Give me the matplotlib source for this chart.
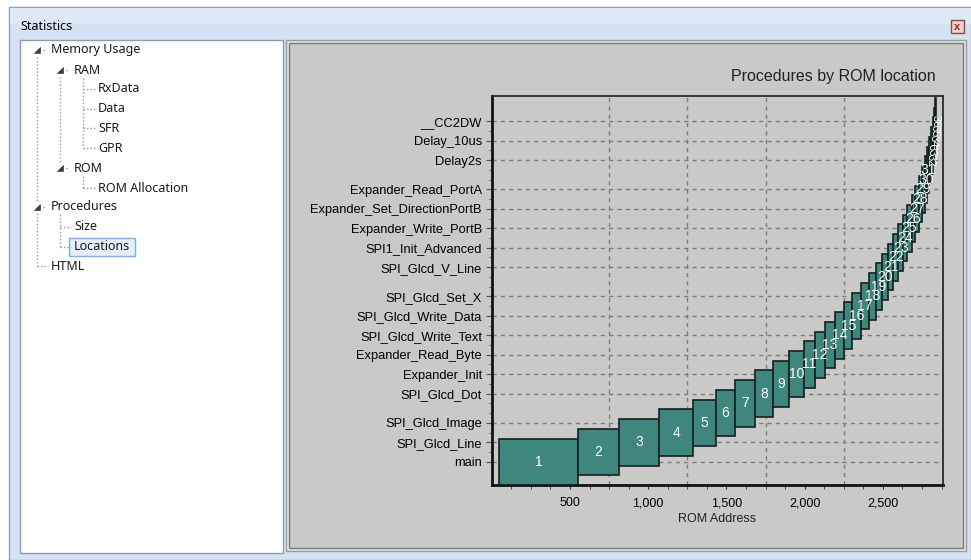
import matplotlib
matplotlib.use('Agg')
import matplotlib.pyplot as plt
from matplotlib.patches import Rectangle, Polygon

# procedures laid out in ROM: start address and size (bytes), in location order
proc_index = list(range(1, 37))
proc_start = [48, 553, 811, 1072, 1289, 1431, 1557, 1682, 1796, 1898, 1997, 2064,
              2130, 2194, 2253, 2304, 2360, 2411, 2456, 2492, 2532, 2567, 2599, 2629,
              2657, 2683, 2707, 2729, 2749, 2767, 2783, 2797, 2809, 2819, 2827, 2833]
proc_size = [505, 258, 261, 217, 142, 126, 125, 114, 102, 99, 67, 66,
             64, 59, 51, 56, 51, 45, 36, 40, 35, 32, 30, 28,
             26, 24, 22, 20, 18, 16, 14, 12, 10, 8, 6, 4]

# names the chart managed to print on the y axis
label_index = [1, 3, 5, 8, 10, 12, 14, 16, 18, 21, 23, 25, 27, 29, 32, 34, 36]
label_names = ['main', 'SPI_Glcd_Line', 'SPI_Glcd_Image', 'SPI_Glcd_Dot', 'Expander_Init',
               'Expander_Read_Byte', 'SPI_Glcd_Write_Text', 'SPI_Glcd_Write_Data',
               'SPI_Glcd_Set_X', 'SPI_Glcd_V_Line', 'SPI1_Init_Advanced',
               'Expander_Write_PortB', 'Expander_Set_DirectionPortB',
               'Expander_Read_PortA', 'Delay2s', 'Delay_10us', '__CC2DW']

x_ticks = [500, 1000, 1500, 2000, 2500]
x_tick_labels = ['500', '1,000', '1,500', '2,000', '2,500']
x_grid = [750, 1250, 1750, 2250]

tree_items = [('Memory Usage', 51, 50), ('RAM', 74, 70), ('RxData', 98, 89),
              ('Data', 98, 109), ('SFR', 98, 128), ('GPR', 98, 148),
              ('ROM', 74, 168), ('ROM Allocation', 98, 188), ('Procedures', 51, 207),
              ('Size', 74, 227), ('Locations', 74, 247), ('HTML', 51, 266)]

W, H = 971, 560
teal = '#3e867e'
panel_gray = '#c9c9c7'
chart_font = 'Liberation Sans'
ui_font = 'Noto Sans'

fig = plt.figure(figsize=(W / 100, H / 100), dpi=100)
fig.patch.set_facecolor('#ffffff')

# ---- window chrome, drawn in pixel coordinates ----
bg = fig.add_axes([0, 0, 1, 1])
bg.set_xlim(0, W)
bg.set_ylim(H, 0)
bg.axis('off')

bg.add_patch(Rectangle((9, 7), W - 9, H - 7, facecolor='#d4e2f3', edgecolor='#8d9fb6', lw=1))
bg.add_patch(Rectangle((10, 8), W - 10, 16, facecolor='#dfe9f6', edgecolor='none'))
bg.text(20, 27, 'Statistics', fontsize=9, family=ui_font, va='center', ha='left')
bg.add_patch(Rectangle((951, 20), 13, 13, facecolor='#e9d3cf', edgecolor='#8b4a44', lw=1))
bg.text(957.5, 26.5, 'x', fontsize=8, color='#a02a20', ha='center', va='center',
        family=chart_font, fontweight='bold')

# tree view panel
bg.add_patch(Rectangle((20, 40), 263, 513, facecolor='white', edgecolor='#8e9bb0', lw=1))
# chart panel
bg.add_patch(Rectangle((286, 40), 680, 511, facecolor='#e8e8e8', edgecolor='#9a9a9a', lw=1))
bg.add_patch(Rectangle((289, 43), 674, 505, facecolor=panel_gray, edgecolor='#7a7a7a', lw=1))

dot = dict(color='#9a9a9a', lw=1, linestyle=(0, (1, 1.5)))
bg.plot([37, 37], [57, 201], **dot)
bg.plot([37, 37], [213, 266], **dot)
bg.plot([37, 48], [266, 266], **dot)
bg.plot([60, 60], [77, 162], **dot)
bg.plot([60, 60], [214, 247], **dot)
bg.plot([60, 71], [227, 227], **dot)
bg.plot([60, 71], [247, 247], **dot)
bg.plot([83, 83], [78, 148], **dot)
bg.plot([83, 83], [176, 188], **dot)
for yy in [89, 109, 128, 148, 188]:
    bg.plot([83, 95], [yy, yy], **dot)
for tx, ty in [(37, 50), (60, 70), (60, 168), (37, 207)]:
    bg.add_patch(Polygon([(tx - 3, ty + 3), (tx + 3, ty + 3), (tx + 3, ty - 3)],
                         closed=True, facecolor='#404040', edgecolor='#404040', lw=0.5))
    bg.plot([tx + 6, tx + 9], [ty, ty], **dot)

bg.add_patch(Rectangle((69, 238), 66, 18, facecolor='#e3f0fc', edgecolor='#84acdd', lw=1))
for name, tx, ty in tree_items:
    bg.text(tx, ty, name, fontsize=9, family=ui_font, va='center', ha='left', color='#1a1a1a')

# ---- the chart itself ----
ax = fig.add_axes([491.7 / W, (H - 485) / H, 451.3 / W, 389 / H])
ax.set_facecolor('none')

ax.barh(proc_index, proc_size, left=proc_start, height=4.78, color=teal,
        edgecolor='#16201f', linewidth=1.2, zorder=3)

for i, s, w in zip(proc_index, proc_start, proc_size):
    if i >= 32:
        ax.text(s + w / 2, i, str(i), ha='center', va='center', color='white',
                fontsize=8, family=chart_font, rotation=270, zorder=4)
    else:
        ax.text(s + w / 2, i, str(i), ha='center', va='center', color='white',
                fontsize=10, family=chart_font, zorder=4)

ax.set_xlim(0, 2884)
ax.set_ylim(-1.39, 38.6)

ax.set_xticks(x_ticks)
ax.set_xticklabels(x_tick_labels, family=chart_font, fontsize=9)
ax.set_xticks(range(125, 2884, 125), minor=True)
ax.set_yticks(label_index)
ax.set_yticklabels(label_names, family=chart_font, fontsize=9.3)
ax.set_yticks(proc_index, minor=True)
ax.tick_params(axis='x', which='both', direction='out', length=3, pad=6, color='#333333')
ax.tick_params(axis='y', which='major', direction='out', length=4, pad=3, color='#555555')
ax.tick_params(axis='y', which='minor', direction='out', length=2, color='#555555')

for xg in x_grid:
    ax.axvline(xg, color='#7c7c7c', lw=1, linestyle=(0, (3, 3)), zorder=1)
for yg in label_index:
    ax.axhline(yg, color='#7c7c7c', lw=1, linestyle=(0, (3, 3)), zorder=1)

for side in ['left', 'bottom']:
    ax.spines[side].set_linewidth(2)
    ax.spines[side].set_color('#111111')
for side in ['top', 'right']:
    ax.spines[side].set_linewidth(1.3)
    ax.spines[side].set_color('#2a2a2a')

fig.text(936 / W, 1 - 77 / H, 'Procedures by ROM location', ha='right', va='center',
         fontsize=11.5, family=chart_font, color='#222222')
fig.text(717.5 / W, 1 - 519 / H, 'ROM Address', ha='center', va='center',
         fontsize=9, family=chart_font, color='#222222')

fig.savefig('out.png', dpi=100)
